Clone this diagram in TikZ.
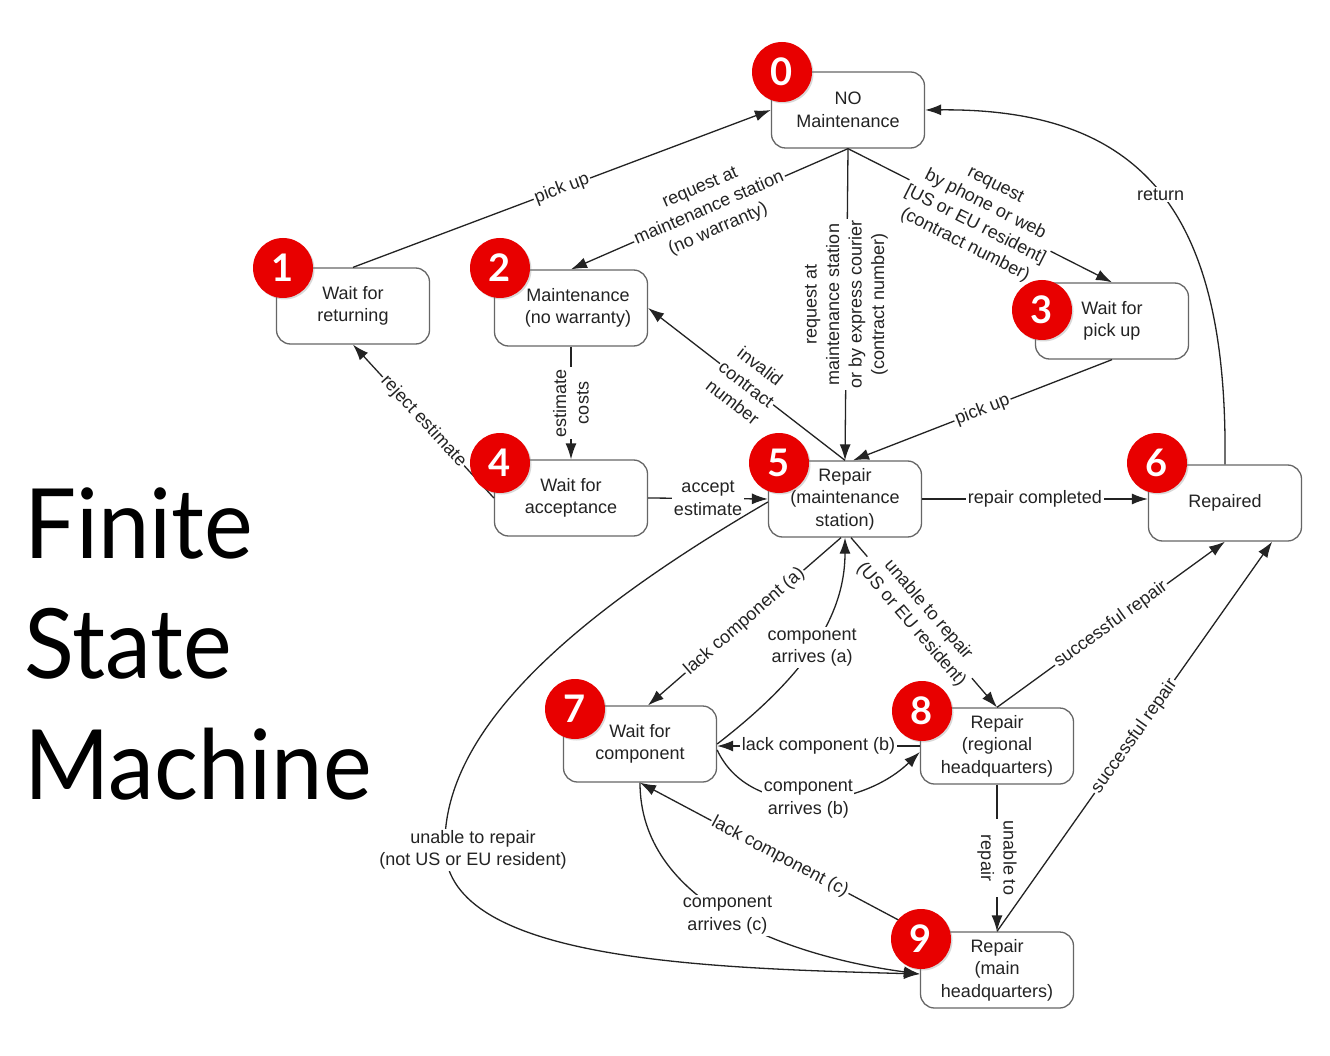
\documentclass[tikz,border=0pt]{standalone}
\usepackage{fontspec}
\setmainfont{Liberation Sans}
\newfontfamily\gillfont{Lato}
\newfontfamily\titlefont{Lato}[FakeStretch=0.95]
\usetikzlibrary{arrows.meta,shadows,calc}
\definecolor{badgered}{RGB}{232,0,0}
\definecolor{ink}{RGB}{35,35,35}
\newcommand{\fsmfont}{\fontsize{18}{22.5}\selectfont}
\begin{document}
\begin{tikzpicture}[x=1pt,y=-1pt,
 state/.style={draw=black!60, line width=1.3pt, rounded corners=14pt, minimum width=153pt, minimum height=76pt, align=center, font=\fsmfont, text=ink, inner sep=2pt},
 badge/.style={circle, fill=badgered, minimum size=60pt, inner sep=0pt, text=white, font=\gillfont\bfseries\fontsize{38}{38}\selectfont, drop shadow={opacity=0.3, shadow xshift=1.5pt, shadow yshift=-1.5pt}},
 conn/.style={draw=ink, line width=1.3pt, -{Latex[length=16pt,width=11pt]}},
 lab/.style={fill=white, inner sep=1.5pt, font=\fsmfont, align=center, text=ink},
 big/.style={anchor=base west, inner sep=0pt, font=\titlefont\fontsize{97}{97}\selectfont}]
\fill[white] (0,0) rectangle (1330,1056);
\useasboundingbox (0,0) rectangle (1330,1056);

% states
\node[state] (n0) at (848,110) {NO\\Maintenance};
\node[state] (n1) at (353,306) {Wait for\\returning};
\node[state] (n2) at (571,308) {\hspace*{14pt}Maintenance\\\hspace*{14pt}(no warranty)};
\node[state] (n3) at (1112,321) {Wait for\\pick up};
\node[state] (n4) at (571,498) {Wait for\\acceptance};
\node[state] (n5) at (845,499) {Repair\\(maintenance\\station)};
\node[state] (n6) at (1225,503) {Repaired};
\node[state] (n7) at (640,744) {Wait for\\component};
\node[state] (n8) at (997,746) {Repair\\(regional\\headquarters)};
\node[state] (n9) at (997,970) {Repair\\(main\\headquarters)};

% transitions
\draw[conn] (n1.north) -- node[lab,sloped]{pick up} (n0.west);
\draw[conn] (n0.south) -- node[lab,sloped]{request at\\maintenance station\\(no warranty)} (n2.north);
\draw[conn] (n0.south) -- node[lab,rotate=90]{request at\\maintenance station\\or by express courier\\(contract number)} (n5.north);
\draw[conn] (n0.south) -- node[lab,sloped]{request\\by phone or web\\{[US or EU resident]}\\(contract number)} (n3.north);
\draw[conn] (n2.south) -- node[lab,rotate=90]{estimate\\costs} (n4.north);
\draw[conn] (n4.west) -- node[lab,sloped]{reject estimate} (n1.south);
\draw[conn] (n4.east) -- node[lab]{accept\\estimate} (n5.west);
\draw[conn] (n5.north) -- node[lab,sloped]{invalid\\contract\\number} (n2.east);
\draw[conn] (n3.south) -- node[lab,sloped]{pick up} ([xshift=8pt]n5.north);
\draw[conn] (n6.north) .. controls (1228,220) and (1150,108) .. node[lab]{return} (n0.east);
\draw[conn] (n5.east) -- node[lab]{repair completed} (n5.east -| n6.west);
\draw[conn] ([xshift=-4pt]n5.south) -- node[lab,sloped]{lack component (a)} ([xshift=8pt]n7.north);
\draw[conn] (n7.east) .. controls (800,680) and (845,620) .. node[lab]{component\\arrives (a)} (n5.south);
\draw[conn] ([xshift=6pt]n5.south) -- node[lab,sloped,pos=0.47]{unable to repair\\(US or EU resident)} (n8.north);
\draw[conn] (n8.west) -- node[lab]{lack component (b)} (n8.west -| n7.east);
\draw[conn] ([yshift=-6pt]n7.east) .. controls (750,820) and (860,810) .. node[lab]{component\\arrives (b)} ([yshift=-6pt]n8.west);
\draw[conn] (n8.north) -- node[lab,sloped]{successful repair} (n6.south);
\draw[conn] (n9.north) -- node[lab,sloped]{successful repair} ([xshift=-30pt]n6.south east);
\draw[conn] (n8.south) -- node[lab,rotate=-90]{unable to\\repair} (n9.north);
\draw[conn] (n9.north west) -- node[lab,sloped]{lack component (c)} (n7.south);
\draw[conn] (n7.south) .. controls (640,900) and (780,955) .. node[lab]{component\\arrives (c)} ([yshift=-4pt]n9.west);
\draw[conn] ([yshift=-3pt]n5.west) .. controls (600,600) and (440,720) .. (445,850)
  node[lab,xshift=28pt]{unable to repair\\(not US or EU resident)}
  .. controls (450,960) and (700,968) .. ([yshift=-4pt]n9.west);

% number badges
\node[badge] (b0) at (782,72) {0};
\node[badge] (b1) at (283,268) {1};
\node[badge] (b2) at (500,268) {2};
\node[badge] (b3) at (1042,310) {3};
\node[badge] (b4) at (500,463) {4};
\node[badge] (b5) at (779,463) {5};
\node[badge] (b6) at (1157,463) {6};
\node[badge] (b7) at (575,709) {7};
\node[badge] (b8) at (922,711) {8};
\node[badge] (b9) at (921,939) {9};

% title
\node[big] (t1) at (24,558) {Finite};
\node[big] (t2) at (24,678) {State};
\node[big] (t3) at (24,799) {Machine};
\end{tikzpicture}
\end{document}
